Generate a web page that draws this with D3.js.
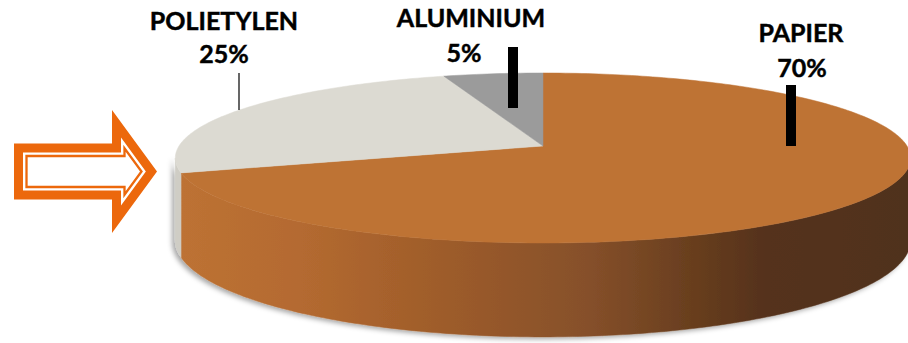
<!DOCTYPE html>
<html>
<head>
<meta charset="utf-8">
<script src="https://cdn.jsdelivr.net/npm/d3@7"></script>
<style>
  html, body { margin: 0; padding: 0; background: #fff; }
  svg { display: block; }
  .lbl { font-family: Lato, "Open Sans", sans-serif; font-weight: 700; font-size: 25px; fill: #000; stroke: #000; stroke-width: 0.45; text-anchor: middle; }
</style>
</head>
<body>
<svg id="chart" width="908" height="343"></svg>
<script>
// 3D pie — packaging composition.
const categories = ["PAPIER", "POLIETYLEN", "ALUMINIUM"];
const shares = [70, 25, 5];
const topColors = ["#BE7334", "#DCDAD2", "#9B9B9B"];
const sideColors = ["url(#sideGrad)", "#CFCDC5", "#8C8C8C"];

// label layout (x centre, name baseline, pct baseline, pct x)
const labelLayout = [
  { x: 801, nameY: 42, pctX: 802, pctY: 77 },
  { x: 224, nameY: 30, pctX: 224, pctY: 63 },
  { x: 471, nameY: 27, pctX: 464, pctY: 62 },
];
// leader lines: x, y top, y bottom, stroke width
const leaders = [
  { x: 791, y1: 85, y2: 146, w: 10 },
  { x: 239, y1: 73, y2: 110, w: 1.2 },
  { x: 513, y1: 47, y2: 108, w: 10 },
];

const W = 908, H = 343;
// perspective disc: vertex, horizontal radius, depth/thickness, foreshortening
const CX = 543, CY = 146, K = 364, A = 83.3, T = 80.7, P = 0.141;

const svg = d3.select("#chart");
const defs = svg.append("defs");

const grad = defs.append("linearGradient")
  .attr("id", "sideGrad")
  .attr("gradientUnits", "userSpaceOnUse")
  .attr("x1", 180).attr("x2", 908).attr("y1", 0).attr("y2", 0);
[[0, "#BD7234"], [0.165, "#B46A30"], [0.376, "#9C5B2A"], [0.559, "#86502A"],
 [0.696, "#6A3F1F"], [0.81, "#54311A"], [1, "#50301A"]]
  .forEach(([o, c]) => grad.append("stop").attr("offset", o).attr("stop-color", c));

const shadow = defs.append("filter").attr("id", "shadow")
  .attr("x", "-10%").attr("y", "-10%").attr("width", "120%").attr("height", "130%");
shadow.append("feDropShadow")
  .attr("dx", -3).attr("dy", 2).attr("stdDeviation", 2.5)
  .attr("flood-color", "#000").attr("flood-opacity", 0.35);

// angle clockwise from 12 o'clock, h = 0 top rim, 1 bottom rim
function proj(a, h) {
  const X = Math.sin(a), Z = Math.cos(a), w = 1 + P * Z;
  return [CX + K * X / w, CY + (-A * Z + T * h) / w];
}
function arcPts(a0, a1, h) {
  const n = Math.max(2, Math.ceil(Math.abs(a1 - a0) / (Math.PI / 180)));
  return d3.range(n + 1).map((i) => proj(a0 + (a1 - a0) * i / n, h));
}

const pie = d3.pie().sort(null).value((d) => d.v)
  .startAngle(0).endAngle(2 * Math.PI);
const arcs = pie(shares.map((v, i) => ({ v, i })));

const line = d3.line().curve(d3.curveLinearClosed);

// visible side between the two silhouette angles
const aL = Math.acos(-P), aR = 2 * Math.PI - aL;

const sideG = svg.append("g").attr("filter", "url(#shadow)");
arcs.forEach((d) => {
  const s0 = Math.max(d.startAngle, aL), s1 = Math.min(d.endAngle, aR);
  if (s1 <= s0) return;
  const pts = arcPts(s0, s1, 0).concat(arcPts(s1, s0, 1));
  sideG.append("path")
    .attr("d", line(pts))
    .attr("fill", sideColors[d.data.i])
    .attr("stroke", sideColors[d.data.i])
    .attr("stroke-width", 0.5);
});

const topG = svg.append("g");
arcs.forEach((d) => {
  const pts = [[CX, CY]].concat(arcPts(d.startAngle, d.endAngle, 0));
  topG.append("path")
    .attr("d", line(pts))
    .attr("fill", topColors[d.data.i])
    .attr("stroke", topColors[d.data.i])
    .attr("stroke-width", 0.5);
});

// leader lines
svg.append("g").selectAll("line")
  .data(leaders)
  .join("line")
  .attr("x1", (d) => d.x).attr("x2", (d) => d.x)
  .attr("y1", (d) => d.y1).attr("y2", (d) => d.y2)
  .attr("stroke", "#000")
  .attr("stroke-width", (d) => d.w);

// labels
const lblG = svg.append("g");
categories.forEach((c, i) => {
  const L = labelLayout[i];
  lblG.append("text").attr("class", "lbl").attr("x", L.x).attr("y", L.nameY).text(c);
  lblG.append("text").attr("class", "lbl").attr("x", L.pctX).attr("y", L.pctY).text(shares[i] + "%");
});

// outlined arrow on the left
const arrow = { x0: 14, xh: 112, xt: 157, cy: 171.5, shaft: 28, head: 61.5 };
const arrowPts = [
  [arrow.x0, arrow.cy - arrow.shaft], [arrow.xh, arrow.cy - arrow.shaft],
  [arrow.xh, arrow.cy - arrow.head], [arrow.xt, arrow.cy],
  [arrow.xh, arrow.cy + arrow.head], [arrow.xh, arrow.cy + arrow.shaft],
  [arrow.x0, arrow.cy + arrow.shaft],
];
function inset(pts, d) {
  const n = pts.length;
  const lines = pts.map((p, i) => {
    const q = pts[(i + 1) % n];
    const dx = q[0] - p[0], dy = q[1] - p[1], len = Math.hypot(dx, dy);
    const nx = -dy / len, ny = dx / len;
    return { px: p[0] + nx * d, py: p[1] + ny * d, dx, dy };
  });
  return lines.map((l2, i) => {
    const l1 = lines[(i - 1 + n) % n];
    const den = l1.dx * l2.dy - l1.dy * l2.dx;
    const t = ((l2.px - l1.px) * l2.dy - (l2.py - l1.py) * l2.dx) / den;
    return [l1.px + l1.dx * t, l1.py + l1.dy * t];
  });
}
const ORANGE = "#EC680C";
const arrowG = svg.append("g");
arrowG.append("path").attr("d", line(arrowPts)).attr("fill", ORANGE);
arrowG.append("path").attr("d", line(inset(arrowPts, 9))).attr("fill", "#fff");
arrowG.append("path").attr("d", line(inset(arrowPts, 12.5)))
  .attr("fill", "none").attr("stroke", ORANGE).attr("stroke-width", 2.3)
  .attr("stroke-linejoin", "miter");
</script>
</body>
</html>
